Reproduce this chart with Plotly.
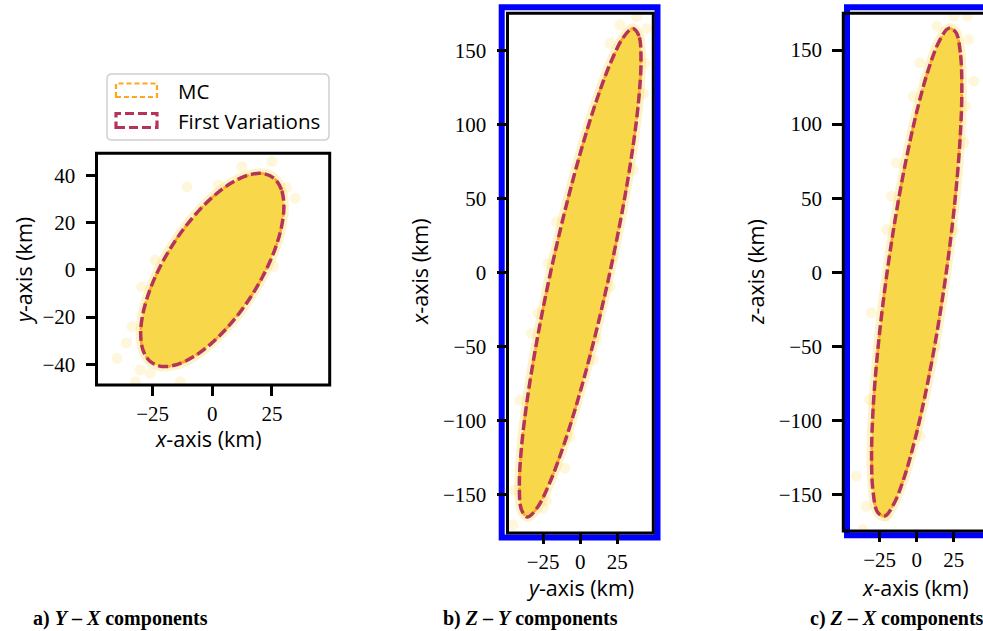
import plotly.graph_objects as go

W, H = 983, 631

# ---------------- data ----------------
# Panel a: Y - X components (horizontal: x-axis km, vertical: y-axis km)
a_ell_x = [30.0, 28.98, 25.98, 21.21, 15.0, 7.76, 0.0, -7.76, -15.0, -21.21, -25.98, -28.98,
           -30.0, -28.98, -25.98, -21.21, -15.0, -7.76, 0.0, 7.76, 15.0, 21.21, 25.98, 28.98, 30.0]
a_ell_y = [27.06, 34.11, 38.84, 40.91, 40.20, 36.76, 30.80, 22.75, 13.14, 2.64, -8.03, -18.17,
           -27.06, -34.11, -38.84, -40.91, -40.20, -36.76, -30.80, -22.75, -13.14, -2.64, 8.03, 18.17, 27.06]
a_out_x = [-39.9, -30.2, -13.4, 25.0, 34.8, -23.9, -29.6, -33.6, 25.7, -26.0, -32.2, -10.6, 2.6, 12.4, 31.0, -36.0]
a_out_y = [-37.5, -42.4, -47.4, 46.0, 30.4, 4.2, -7.1, -24.0, 1.4, -43.8, -47.4, 35.3, 36.1, 43.8, 35.0, -31.0]

# Panel b: Z - Y components (horizontal: y-axis km, vertical: x-axis km)
b_ell_x = [41.0, 39.60, 35.51, 28.99, 20.5, 10.61, 0.0, -10.61, -20.5, -28.99, -35.51, -39.60,
           -41.0, -39.60, -35.51, -28.99, -20.5, -10.61, 0.0, 10.61, 20.5, 28.99, 35.51, 39.60, 41.0]
b_ell_y = [144.0, 160.0, 165.0, 158.8, 141.8, 115.1, 80.5, 40.5, -2.3, -44.9, -84.5, -118.3,
           -144.0, -160.0, -165.0, -158.8, -141.8, -115.1, -80.5, -40.5, 2.3, 44.9, 84.5, 118.3, 144.0]
b_out_x = [38.1, 26.8, 44.9, 20.1, 43.7, 42.6, 35.8, -15.9, -21.6, 22.3, 20.1, -28.4, -32.8, 11.1,
           8.8, -40.7, -7.0, -10.3, -44.1, -45.3, -25.0, -22.7]
b_out_y = [172.9, 167.3, 165.0, 154.9, 141.4, 121.1, 69.3, 34.4, 6.3, 10.8, -9.5, -27.4, -40.9, -44.3,
           -58.9, -86.0, -110.7, -132.0, -146.7, -170.4, -159.0, -154.0]

# Panel c: Z - X components (horizontal: x-axis km, vertical: z-axis km)
c_ell_x = [30.5, 29.46, 26.41, 21.57, 15.25, 7.89, 0.0, -7.89, -15.25, -21.57, -26.41, -29.46,
           -30.5, -29.46, -26.41, -21.57, -15.25, -7.89, 0.0, 7.89, 15.25, 21.57, 26.41, 29.46, 30.5]
c_ell_y = [124.6, 148.4, 162.0, 164.6, 156.0, 136.8, 108.2, 72.3, 31.4, -11.6, -53.8, -92.3,
           -124.6, -148.4, -162.0, -164.6, -156.0, -136.8, -108.2, -72.3, -31.4, 11.6, 53.8, 92.3, 124.6]
c_out_x = [25.0, 34.1, 13.6, 35.2, 2.2, 38.6, -2.3, 32.9, 31.8, -13.6, -17.0, 25.0, -20.5, -30.7,
           12.5, -31.8, 2.2, -11.4, -40.9, -34.1, -20.5, -36.4]
c_out_y = [172.9, 172.9, 166.1, 157.1, 141.4, 129.0, 118.8, 112.1, 87.4, 73.9, 51.3, 27.7, 28.8, -27.4,
           -50.0, -86.0, -110.7, -124.2, -137.7, -158.0, -164.8, -173.7]

a_ticks_x = [-25, 0, 25]
a_ticks_y = [-40, -20, 0, 20, 40]
bc_ticks_x = [-25, 0, 25]
bc_ticks_y = [-150, -100, -50, 0, 50, 100, 150]

series_names = ["MC", "First Variations"]
captions = ["a) <i>Y</i> – <i>X</i> components", "b) <i>Z</i> – <i>Y</i> components", "c) <i>Z</i> – <i>X</i> components"]

# ---------------- styling ----------------
YELLOW = "#F8D74A"
HALO = "rgba(248,215,74,0.30)"
OUTLIER = "rgba(248,215,74,0.20)"
ORANGE = "#FFA51E"
CRIMSON = "#B5345A"
SANS = "Open Sans"
SERIF = "Liberation Serif"


def px(x):
    return x / W


def py(y):
    return 1 - y / H


fig = go.Figure()

panels = [
    ("x", "y", a_ell_x, a_ell_y, a_out_x, a_out_y),
    ("x2", "y2", b_ell_x, b_ell_y, b_out_x, b_out_y),
    ("x3", "y3", c_ell_x, c_ell_y, c_out_x, c_out_y),
]
for xa, ya, ex, ey, ox, oy in panels:
    fig.add_trace(go.Scatter(x=ox, y=oy, xaxis=xa, yaxis=ya, mode="markers",
                             marker=dict(size=11, color=OUTLIER, line=dict(width=0)),
                             showlegend=False, hoverinfo="skip"))
    fig.add_trace(go.Scatter(x=ex, y=ey, xaxis=xa, yaxis=ya, mode="lines", fill="toself",
                             fillcolor=YELLOW, line=dict(color=HALO, width=10, shape="spline", smoothing=1.0),
                             showlegend=False, hoverinfo="skip"))
    fig.add_trace(go.Scatter(x=ex, y=ey, xaxis=xa, yaxis=ya, mode="lines", name=series_names[0],
                             line=dict(color=ORANGE, width=2.5, dash="5px,3px", shape="spline", smoothing=1.0),
                             showlegend=False))
    fig.add_trace(go.Scatter(x=ex, y=ey, xaxis=xa, yaxis=ya, mode="lines", name=series_names[1],
                             line=dict(color=CRIMSON, width=3.5, dash="10px,4px", shape="spline", smoothing=1.0),
                             showlegend=False))

tickfont = dict(family=SERIF, size=21, color="black")
axcommon = dict(showgrid=False, zeroline=False, showline=False, ticks="outside", ticklen=10,
                tickwidth=2.5, tickcolor="black", tickfont=tickfont, fixedrange=True)

fig.update_layout(
    width=W, height=H, margin=dict(l=0, r=0, t=0, b=0),
    paper_bgcolor="white", plot_bgcolor="white", showlegend=False,
    xaxis=dict(domain=[px(96.5), px(329.7)], range=[-48.5, 49.2], tickvals=a_ticks_x, anchor="y", **axcommon),
    yaxis=dict(domain=[py(385), py(153.3)], range=[-48.8, 49.5], tickvals=a_ticks_y, anchor="x",
               ticklabelstandoff=6, **axcommon),
    xaxis2=dict(domain=[px(507.5), px(653.3)], range=[-49.0, 49.3], tickvals=bc_ticks_x, anchor="y2", **axcommon),
    yaxis2=dict(domain=[py(533), py(13.3)], range=[-175.8, 175.2], tickvals=bc_ticks_y, anchor="x2",
                ticklabelstandoff=6, **axcommon),
    xaxis3=dict(domain=[px(843.3), 1.0], range=[-49.6, 44.8], tickvals=bc_ticks_x, anchor="y3", **axcommon),
    yaxis3=dict(domain=[py(531), py(13.3)], range=[-174.7, 174.8], tickvals=bc_ticks_y, anchor="x3",
                ticklabelstandoff=6, **axcommon),
)

shapes = []
# blue highlight boxes (below)
shapes.append(dict(type="rect", xref="paper", yref="paper", x0=px(501.7), x1=px(657.5), y0=py(537.5), y1=py(7.2),
                   line=dict(color="#0000FF", width=6), layer="below"))
shapes.append(dict(type="rect", xref="paper", yref="paper", x0=px(847), x1=1.2, y0=py(535.3), y1=py(7.2),
                   line=dict(color="#0000FF", width=6), layer="below"))
# black frames
for xr, yr, x1 in [("x domain", "y domain", 1), ("x2 domain", "y2 domain", 1), ("x3 domain", "y3 domain", 1.3)]:
    shapes.append(dict(type="rect", xref=xr, yref=yr, x0=0, x1=x1, y0=0, y1=1,
                       line=dict(color="black", width=3), layer="above"))

# legend box (rounded)
lx0, lx1, ly0, ly1, r = 107, 329, 74, 140, 5
path = (f"M{px(lx0 + r)},{py(ly0)} L{px(lx1 - r)},{py(ly0)} Q{px(lx1)},{py(ly0)} {px(lx1)},{py(ly0 + r)} "
        f"L{px(lx1)},{py(ly1 - r)} Q{px(lx1)},{py(ly1)} {px(lx1 - r)},{py(ly1)} "
        f"L{px(lx0 + r)},{py(ly1)} Q{px(lx0)},{py(ly1)} {px(lx0)},{py(ly1 - r)} "
        f"L{px(lx0)},{py(ly0 + r)} Q{px(lx0)},{py(ly0)} {px(lx0 + r)},{py(ly0)} Z")
shapes.append(dict(type="path", xref="paper", yref="paper", path=path,
                   line=dict(color="#D0D0D0", width=1.5), fillcolor="rgba(255,255,255,0.8)", layer="above"))
shapes.append(dict(type="rect", xref="paper", yref="paper", x0=px(116), x1=px(157), y0=py(97), y1=py(83.5),
                   line=dict(color=ORANGE, width=2.2, dash="5px,3px"), layer="above"))
shapes.append(dict(type="rect", xref="paper", yref="paper", x0=px(116), x1=px(157), y0=py(127.5), y1=py(113.5),
                   line=dict(color=CRIMSON, width=3.2, dash="9px,4px"), layer="above"))
fig.update_layout(shapes=shapes)

ann = []
legfont = dict(family=SANS, size=20.5, color="black")
titlefont = dict(family=SANS, size=21.5, color="black")
ann.append(dict(x=px(176), y=py(91.5), xref="paper", yref="paper", text=series_names[0], showarrow=False,
                xanchor="left", yanchor="middle", font=legfont))
ann.append(dict(x=px(176), y=py(121), xref="paper", yref="paper", text=series_names[1], showarrow=False,
                xanchor="left", yanchor="middle", font=legfont))
# axis titles
for x, y, t, ang in [(208, 438, "<i>x</i>-axis (km)", 0), (23, 271, "<i>y</i>-axis (km)", -90),
                     (580.3, 587, "<i>y</i>-axis (km)", 0), (419, 272, "<i>x</i>-axis (km)", -90),
                     (915, 587, "<i>x</i>-axis (km)", 0), (755, 272, "<i>z</i>-axis (km)", -90)]:
    ann.append(dict(x=px(x), y=py(y), xref="paper", yref="paper", text=t, showarrow=False, textangle=ang,
                    xanchor="center", yanchor="middle", font=titlefont))
# captions
for x, t in [(120.5, captions[0]), (530.5, captions[1]), (897, captions[2])]:
    ann.append(dict(x=px(x), y=py(618), xref="paper", yref="paper", text=f"<b>{t}</b>", showarrow=False,
                    xanchor="center", yanchor="middle", font=dict(family=SERIF, size=20, color="black")))
fig.update_layout(annotations=ann)

fig.write_html("out.html")
